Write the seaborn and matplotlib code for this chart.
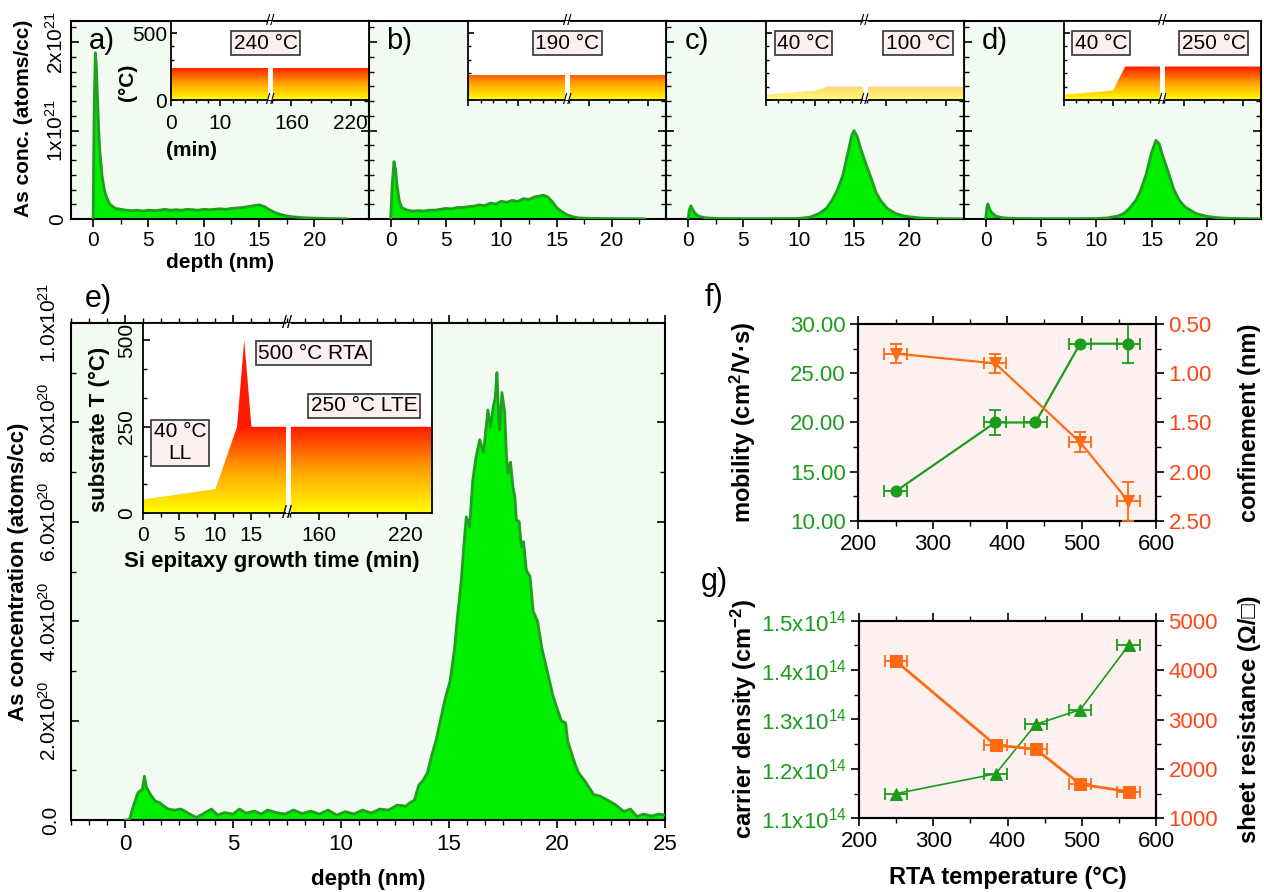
import numpy as np
import pandas as pd
import matplotlib
matplotlib.use("Agg")
import matplotlib.pyplot as plt
import seaborn as sns
from matplotlib.colors import LinearSegmentedColormap
from matplotlib.ticker import MultipleLocator, FixedLocator, FuncFormatter, FormatStrFormatter
from matplotlib.patches import PathPatch

# ---------------- data ----------------
# SIMS profiles, panels a-d (depth in nm, As concentration in 1e21 atoms/cc)
depth_a = [0.0, 0.1, 0.2, 0.3, 0.4, 0.5, 0.6, 0.8, 1.0, 1.2, 1.5, 2.0, 2.5, 3.0, 3.5, 4.0, 4.5, 5.0, 5.5, 6.0,
           6.5, 7.0, 7.5, 8.0, 8.5, 9.0, 9.5, 10.0, 10.5, 11.0, 11.5, 12.0, 12.5, 13.0, 13.5, 14.0, 14.5, 15.0,
           15.5, 16.0, 16.5, 17.0, 17.5, 18.0, 19.0, 20.0, 21.0, 22.0, 23.0]
conc_a = [0.0, 1.30, 1.88, 1.72, 1.35, 1.02, 0.78, 0.50, 0.34, 0.25, 0.17, 0.12, 0.11, 0.10, 0.095, 0.10, 0.09,
          0.10, 0.095, 0.10, 0.11, 0.10, 0.105, 0.10, 0.11, 0.105, 0.10, 0.11, 0.105, 0.11, 0.115, 0.11, 0.12,
          0.125, 0.13, 0.14, 0.15, 0.16, 0.14, 0.10, 0.07, 0.05, 0.035, 0.025, 0.015, 0.01, 0.006, 0.004, 0.003]

depth_b = [0.0, 0.15, 0.3, 0.45, 0.6, 0.8, 1.0, 1.5, 2.0, 2.5, 3.0, 3.5, 4.0, 4.5, 5.0, 5.5, 6.0, 6.5, 7.0, 7.5,
           8.0, 8.5, 9.0, 9.5, 10.0, 10.5, 11.0, 11.5, 12.0, 12.5, 13.0, 13.5, 13.8, 14.2, 14.6, 15.0, 15.5,
           16.0, 16.5, 17.0, 18.0, 19.0, 20.0, 21.0, 22.0, 23.0]
conc_b = [0.0, 0.40, 0.65, 0.56, 0.36, 0.20, 0.13, 0.10, 0.09, 0.095, 0.09, 0.10, 0.10, 0.11, 0.12, 0.115, 0.13,
          0.13, 0.14, 0.145, 0.16, 0.15, 0.18, 0.17, 0.20, 0.19, 0.21, 0.20, 0.23, 0.22, 0.25, 0.26, 0.27, 0.25,
          0.20, 0.13, 0.08, 0.045, 0.025, 0.012, 0.008, 0.006, 0.005, 0.004, 0.003, 0.002]

depth_c = [0.0, 0.1, 0.25, 0.4, 0.6, 0.8, 1.0, 1.5, 2.0, 3.0, 5.0, 8.0, 10.0, 11.0, 11.8, 12.5, 13.0, 13.5, 14.0,
           14.5, 14.8, 15.0, 15.3, 15.6, 16.0, 16.5, 17.0, 17.4, 18.0, 18.8, 19.5, 20.0, 21.0, 22.0, 23.0, 24.0, 25.0]
conc_c = [0.0, 0.10, 0.15, 0.11, 0.07, 0.045, 0.03, 0.015, 0.01, 0.006, 0.004, 0.005, 0.007, 0.02, 0.06, 0.12,
          0.21, 0.33, 0.50, 0.78, 0.95, 1.00, 0.93, 0.80, 0.65, 0.48, 0.30, 0.21, 0.12, 0.06, 0.035, 0.025, 0.012,
          0.007, 0.004, 0.003, 0.002]

depth_d = [0.0, 0.1, 0.2, 0.35, 0.5, 0.8, 1.0, 1.5, 2.0, 3.0, 5.0, 8.0, 10.0, 11.0, 12.0, 12.5, 13.0, 13.6, 14.0,
           14.5, 15.0, 15.4, 15.7, 16.0, 16.6, 17.0, 17.5, 18.0, 19.0, 20.0, 21.0, 22.0, 23.0, 24.0, 25.0]
conc_d = [0.0, 0.12, 0.17, 0.12, 0.08, 0.045, 0.03, 0.015, 0.01, 0.006, 0.004, 0.004, 0.006, 0.012, 0.035, 0.064,
          0.12, 0.215, 0.32, 0.50, 0.75, 0.89, 0.85, 0.72, 0.50, 0.34, 0.215, 0.14, 0.064, 0.03, 0.015, 0.008,
          0.005, 0.003, 0.002]

# panel e profile (depth nm, As concentration in 1e20 atoms/cc)
depth_e = [0.0, 0.2, 0.4, 0.6, 0.8, 0.9, 1.0, 1.2, 1.4, 1.6, 1.8, 2.0, 2.3, 2.6, 3.0, 3.3, 3.6, 4.0, 4.3, 4.6,
           5.0, 5.3, 5.6, 6.0, 6.3, 6.6, 7.0, 7.4, 7.8, 8.2, 8.6, 9.0, 9.4, 9.8, 10.2, 10.6, 11.0, 11.4, 11.8, 12.2,
           12.6, 13.0, 13.2, 13.4, 13.6, 13.8, 14.0, 14.2, 14.4, 14.6, 14.8, 15.05, 15.26, 15.37,
           15.57, 15.7, 15.8, 15.95, 16.1, 16.25, 16.42, 16.6, 16.8, 16.92, 17.04, 17.14, 17.22, 17.3, 17.35,
           17.45, 17.58, 17.65, 17.73, 17.85, 17.96, 18.05, 18.12, 18.25, 18.35, 18.45, 18.58, 18.75, 18.9, 19.1,
           19.3, 19.6, 19.8, 20.0, 20.2, 20.4, 20.5, 20.85, 21.0, 21.3, 21.7, 22.0, 22.3, 22.7, 23.1, 23.4, 23.7,
           24.0, 24.4, 24.7, 25.0]
conc_e = [0.0, 0.0, 0.30, 0.55, 0.62, 0.88, 0.65, 0.50, 0.38, 0.35, 0.28, 0.22, 0.20, 0.22, 0.12, 0.05, 0.12,
          0.22, 0.10, 0.15, 0.12, 0.22, 0.14, 0.18, 0.12, 0.20, 0.15, 0.12, 0.20, 0.13, 0.18, 0.12, 0.20, 0.10,
          0.17, 0.12, 0.20, 0.14, 0.22, 0.20, 0.30, 0.28, 0.35, 0.40, 0.70, 0.80, 0.95, 1.30, 1.60, 2.00, 2.40,
          2.80, 3.46, 4.00,
          4.83, 5.6, 6.10, 5.9, 6.84, 7.3, 7.65, 7.4, 8.25, 7.9, 8.30, 8.5, 9.00, 8.1, 7.85,
          8.6, 8.20, 7.4, 6.98, 7.2, 6.70, 6.5, 6.04, 6.0, 5.50, 5.6, 5.03, 4.9, 4.20, 4.0,
          3.46, 2.90, 2.52, 2.25, 2.00, 1.95, 1.58, 1.11, 0.95, 0.78, 0.51, 0.48, 0.41, 0.31, 0.17, 0.22, 0.07,
          0.12, 0.08, 0.12, 0.10]

# growth-temperature recipes for the insets (time in min, T in degC)
time_a = [0, 20, 138, 238]
temp_a = [240, 240, 240, 240]
time_b = [0, 20, 138, 238]
temp_b = [190, 190, 190, 190]
time_c = [0, 10, 12.5, 20, 138, 238]
temp_c = [40, 70, 100, 100, 100, 100]
time_d = [0, 10, 12.5, 20, 138, 238]
temp_d = [40, 70, 250, 250, 250, 250]
time_e = [0, 10, 13, 14, 15, 20, 138, 238]
temp_e = [40, 70, 250, 500, 250, 250, 250, 250]

# panel f / g
rta_temp = [250, 384, 438, 498, 563]
rta_err = [15, 15, 15, 15, 15]
mobility = [13.0, 20.0, 20.0, 28.0, 28.0]
mobility_err = [0.0, 1.3, 0.0, 0.0, 2.0]
conf_temp = [250, 384, 498, 563]
conf_temp_err = [15, 15, 15, 15]
confinement = [0.80, 0.90, 1.70, 2.30]
confinement_err = [0.10, 0.10, 0.10, 0.20]
carrier = [1.15e14, 1.19e14, 1.29e14, 1.32e14, 1.45e14]
sheet_res = [4180, 2480, 2400, 1690, 1540]

# ---------------- style ----------------
sns.set_theme(style="ticks")
plt.rcParams.update({
    "axes.edgecolor": "black", "axes.linewidth": 1.5, "text.color": "black",
    "axes.labelcolor": "black", "xtick.color": "black", "ytick.color": "black",
    "xtick.major.width": 1.2, "ytick.major.width": 1.2, "xtick.minor.width": 1.0,
    "ytick.minor.width": 1.0, "xtick.major.size": 6, "ytick.major.size": 6,
    "xtick.minor.size": 3.5, "ytick.minor.size": 3.5,
    "mathtext.fontset": "custom", "mathtext.rm": "Liberation Sans",
    "mathtext.it": "Liberation Sans:italic", "mathtext.bf": "Liberation Sans:bold",
})
plt.rcParams["font.family"] = ["Liberation Sans", "DejaVu Sans"]

FACE_G = "#f2fbf1"
FACE_P = "#fdf1ef"
FILL = "#00ee00"
EDGE = "#1f9f1f"
GREEN = "#1c9c1c"
ORANGE = "#ff6a13"
RED_T = "#ff4516"
HEAT = LinearSegmentedColormap.from_list("heat", ["#ffff00", "#ffa000", "#ff1a00"])

W, H = 1264, 892
fig = plt.figure(figsize=(W / 100, H / 100), dpi=100)


def px_axes(x0, y0, x1, y1):
    return fig.add_axes([x0 / W, 1 - y1 / H, (x1 - x0) / W, (y1 - y0) / H])


def draw_profile(ax, depth, conc, unit):
    df = pd.DataFrame({"depth": depth, "conc": np.asarray(conc, float) * unit})
    ax.fill_between(df["depth"], 0, df["conc"], color=FILL, lw=0, zorder=2)
    sns.lineplot(data=df, x="depth", y="conc", ax=ax, color=EDGE, lw=2.0, zorder=3,
                 estimator=None, sort=False)
    ax.set_xlabel("")
    ax.set_ylabel("")


# broken time axis for insets
BRK_L, BRK_R, KR = 20.0, 138.0, 0.2


def fwd(t):
    t = np.asarray(t, float)
    return np.where(t <= BRK_L, t, np.where(t >= BRK_R, BRK_L + (t - BRK_R) * KR, BRK_L))


def inv(u):
    u = np.asarray(u, float)
    return np.where(u <= BRK_L, u, BRK_R + (u - BRK_L) / KR)


def draw_inset(ax, time, temp, ymax, alpha=1.0, brk_fs=11):
    ax.set_facecolor("white")
    ax.set_xscale("function", functions=(fwd, inv))
    poly = ax.fill_between(time, 0, temp, facecolor="none", edgecolor="none", zorder=1)
    clip = PathPatch(poly.get_paths()[0], transform=ax.transData, facecolor="none", edgecolor="none")
    ax.add_patch(clip)
    ramp = np.clip(np.linspace(0, 600, 400) / 250.0, 0, 1).reshape(-1, 1)
    im = ax.imshow(ramp, extent=(0, 1, 0, 600.0 / ymax), origin="lower", aspect="auto", cmap=HEAT,
                   vmin=0, vmax=1, transform=ax.transAxes, zorder=1, alpha=alpha, interpolation="bilinear")
    im.set_clip_path(clip)
    ax.set_xlim(0, 238)
    ax.set_ylim(0, ymax)
    ax.axvline(BRK_L, color="white", lw=3.5, zorder=4)
    for yy in (1.0, 0.0):
        ax.text(BRK_L, yy, "//", transform=ax.get_xaxis_transform(), ha="center", va="center",
                fontsize=brk_fs, clip_on=False, zorder=6)
    for s in ax.spines.values():
        s.set_linewidth(1.3)


def box(ax, x, y, s, fs=15):
    ax.text(x, y, s, transform=ax.transAxes, ha="center", va="center", fontsize=fs, zorder=7,
            multialignment="center",
            bbox=dict(boxstyle="square,pad=0.12", fc="#fdf0f0", ec="#333333", lw=1.2))


# ---------------- panels a-d ----------------
lefts = [71, 368.5, 666, 963.5]
PW = 297.5
profiles = [(depth_a, conc_a), (depth_b, conc_b), (depth_c, conc_c), (depth_d, conc_d)]
letters = ["a)", "b)", "c)", "d)"]


def fmt21_func(v, p):
    if abs(v) < 1e10:
        return "0"
    if v < 0:
        return ""
    return f"{int(round(v / 1e21))}x10$^{{21}}$"


for i, (l, (dd, cc)) in enumerate(zip(lefts, profiles)):
    ax = px_axes(l, 21, l + PW, 219)
    ax.set_facecolor(FACE_G)
    draw_profile(ax, dd, cc, 1e21)
    ax.set_xlim(-2, 24.9)
    ax.set_ylim(0, 2.24e21)
    ax.xaxis.set_major_locator(MultipleLocator(5))
    ax.xaxis.set_minor_locator(MultipleLocator(2.5))
    ax.yaxis.set_major_locator(FixedLocator([0, 1e21, 2e21]))
    ax.yaxis.set_minor_locator(MultipleLocator(1e21 / 6))
    ax.tick_params(axis="x", which="both", direction="out", labelsize=15, pad=3)
    ax.tick_params(axis="y", which="both", direction="in", left=True, right=True, labelsize=15, pad=3)
    ax.yaxis.set_major_formatter(FuncFormatter(fmt21_func))
    if i == 0:
        ax.tick_params(axis="y", labelrotation=90)
        for lab in ax.get_yticklabels():
            lab.set_va("center")
        ax.set_ylabel("As conc. (atoms/cc)", fontsize=15, fontweight="bold")
        ax.yaxis.set_label_coords(-0.128, 0.51)
        ax.set_xlabel("depth (nm)", fontsize=15, fontweight="bold", labelpad=2)
    else:
        ax.tick_params(axis="y", labelleft=False)
    fig.text((l + 31) / W, 1 - 41 / H, letters[i], fontsize=21, ha="center", va="center")

# insets a-d
inset_specs = [(time_a, temp_a, 1.0), (time_b, temp_b, 1.0), (time_c, temp_c, 0.55), (time_d, temp_d, 1.0)]
for i, (l, (tt, tp, al)) in enumerate(zip(lefts, inset_specs)):
    ix = px_axes(l + 100, 21, l + PW, 100)
    draw_inset(ix, tt, tp, 590, alpha=al)
    ix.set_yticks([0, 500])
    ix.yaxis.set_minor_locator(FixedLocator([100, 200, 300, 400]))
    ix.set_xticks([0, 10, 160, 220])
    ix.xaxis.set_minor_locator(FixedLocator([2.5, 5, 7.5, 12.5, 15, 17.5, 140, 180, 200]))
    ix.tick_params(axis="y", which="both", direction="in", labelsize=15, pad=3, length=4)
    ix.tick_params(axis="y", which="minor", length=2.5)
    ix.tick_params(axis="x", which="both", direction="out", labelsize=15, pad=6, length=4)
    ix.tick_params(axis="x", which="minor", length=2.5)
    if i == 0:
        ix.set_xticklabels(["0", "10", "160", "220"])
        ix.set_yticklabels(["0", "500"])
        ix.set_xlabel("(min)", fontsize=15, fontweight="bold")
        ix.xaxis.set_label_coords(0.103, -0.52)
        ix.set_ylabel("(°C)", fontsize=15, fontweight="bold")
        ix.yaxis.set_label_coords(-0.17, 0.22)
    else:
        ix.tick_params(labelbottom=False, labelleft=False)
    if i == 0:
        box(ix, 0.48, 0.72, "240 °C")
    elif i == 1:
        box(ix, 0.50, 0.72, "190 °C")
    elif i == 2:
        box(ix, 0.19, 0.72, "40 °C")
        box(ix, 0.77, 0.72, "100 °C")
    else:
        box(ix, 0.19, 0.72, "40 °C")
        box(ix, 0.76, 0.72, "250 °C")

# ---------------- panel e ----------------
axe = px_axes(71, 323, 665, 820)
axe.set_facecolor(FACE_G)
draw_profile(axe, depth_e, conc_e, 1e20)
axe.set_xlim(-2.5, 25)
axe.set_ylim(0, 1.0e21)
axe.xaxis.set_major_locator(MultipleLocator(5))
axe.xaxis.set_minor_locator(MultipleLocator(5 / 6))
axe.yaxis.set_major_locator(FixedLocator([0, 2e20, 4e20, 6e20, 8e20, 1e21]))
axe.yaxis.set_minor_locator(FixedLocator([1e20, 3e20, 5e20, 7e20, 9e20]))


def fmt_e(v, p):
    if abs(v) < 1e10:
        return "0.0"
    if v < 0:
        return ""
    ex = int(np.floor(np.log10(v) + 1e-9))
    return f"{v / 10 ** ex:.1f}x10$^{{{ex}}}$"


axe.yaxis.set_major_formatter(FuncFormatter(fmt_e))
axe.tick_params(axis="x", which="both", direction="out", bottom=True, labelsize=16, pad=4)
axe.tick_params(axis="x", which="both", top=True)
axe.tick_params(axis="y", which="both", direction="in", left=True, right=True, labelsize=15, pad=8,
                labelrotation=90)
for lab in axe.get_yticklabels():
    lab.set_va("center")
axe.set_ylabel("As concentration (atoms/cc)", fontsize=16, fontweight="bold")
axe.yaxis.set_label_coords(-0.070, 0.5)
axe.set_xlabel("depth (nm)", fontsize=16, fontweight="bold")
axe.xaxis.set_label_coords(0.5, -0.098)
fig.text(98 / W, 1 - 299 / H, "e)", fontsize=22, ha="center", va="center")

# inset e
ie = px_axes(143.3, 323, 431.7, 513.3)
draw_inset(ie, time_e, temp_e, 550, brk_fs=13)
ie.set_yticks([0, 250, 500])
ie.yaxis.set_minor_locator(FixedLocator([83.3, 166.7, 333.3, 416.7]))
ie.set_xticks([0, 5, 10, 15, 160, 220])
ie.set_xticklabels(["0", "5", "10", "15", "160", "220"])
ie.xaxis.set_minor_locator(FixedLocator([2.5, 7.5, 12.5, 17.5, 140, 180, 200]))
ie.tick_params(axis="y", which="both", direction="in", labelsize=15, pad=5, labelrotation=90, length=5)
ie.tick_params(axis="y", which="minor", length=3)
for lab in ie.get_yticklabels():
    lab.set_va("center")
ie.tick_params(axis="x", which="both", direction="out", labelsize=15, pad=4, length=5)
ie.tick_params(axis="x", which="minor", length=3)
ie.set_xlabel("Si epitaxy growth time (min)", fontsize=16, fontweight="bold")
ie.xaxis.set_label_coords(0.445, -0.20)
ie.set_ylabel("substrate T (°C)", fontsize=16, fontweight="bold")
ie.yaxis.set_label_coords(-0.115, 0.44)
box(ie, 0.589, 0.842, "500 °C RTA")
box(ie, 0.766, 0.564, "250 °C LTE")
box(ie, 0.127, 0.37, "40 °C\nLL")

# ---------------- panel f ----------------
axf = px_axes(858.3, 324, 1156, 521)
axf.set_facecolor(FACE_P)
sns.lineplot(x=rta_temp, y=mobility, ax=axf, color=GREEN, lw=1.6, marker="o", markersize=8,
             markeredgecolor=GREEN, zorder=3)
axf.errorbar(rta_temp, mobility, xerr=rta_err, yerr=mobility_err, fmt="none", ecolor=GREEN,
             elinewidth=1.3, capsize=4, capthick=1.3, zorder=3)
axf.set_xlim(200, 600)
axf.set_ylim(10, 30)
axf2 = axf.twinx()
sns.lineplot(x=conf_temp, y=confinement, ax=axf2, color=ORANGE, lw=1.6, marker="v", markersize=9,
             markeredgecolor=ORANGE, zorder=3)
axf2.errorbar(conf_temp, confinement, xerr=conf_temp_err, yerr=confinement_err, fmt="none",
              ecolor=ORANGE, elinewidth=1.3, capsize=4, capthick=1.3, zorder=3)
axf2.set_ylim(2.5, 0.5)

# ---------------- panel g ----------------
axg = px_axes(859, 620.7, 1156, 818.3)
axg.set_facecolor(FACE_P)
sns.lineplot(x=rta_temp, y=carrier, ax=axg, color=GREEN, lw=1.2, marker="^", markersize=9,
             markeredgecolor=GREEN, zorder=3)
axg.errorbar(rta_temp, carrier, xerr=rta_err, fmt="none", ecolor=GREEN, elinewidth=1.3, capsize=4,
             capthick=1.3, zorder=3)
axg.set_xlim(200, 600)
axg.set_ylim(1.1e14, 1.5e14)
axg2 = axg.twinx()
sns.lineplot(x=rta_temp, y=sheet_res, ax=axg2, color=ORANGE, lw=2.0, marker="s", markersize=8,
             markeredgecolor=ORANGE, zorder=3)
axg2.errorbar(rta_temp, sheet_res, xerr=rta_err, fmt="none", ecolor=ORANGE, elinewidth=1.3, capsize=4,
              capthick=1.3, zorder=3)
axg2.set_ylim(1000, 5000)

for a in (axf, axg):
    a.xaxis.set_major_locator(MultipleLocator(100))
    a.xaxis.set_minor_locator(MultipleLocator(50))
    a.tick_params(axis="x", which="both", direction="out", labelsize=16, pad=3)
    a.tick_params(axis="x", which="both", top=True, labeltop=False)
    a.tick_params(axis="y", which="both", direction="out", labelsize=16, labelcolor=GREEN, pad=3)
    a.set_xlabel("")
for a in (axf2, axg2):
    a.tick_params(axis="y", which="both", direction="out", labelsize=16, labelcolor=RED_T, pad=3)
    a.set_ylabel("")
    for s in a.spines.values():
        s.set_linewidth(1.5)

axf.yaxis.set_major_locator(MultipleLocator(5))
axf.yaxis.set_minor_locator(MultipleLocator(2.5))
axf.yaxis.set_major_formatter(FormatStrFormatter("%.2f"))
axf2.yaxis.set_major_locator(MultipleLocator(0.5))
axf2.yaxis.set_minor_locator(MultipleLocator(0.25))
axf2.yaxis.set_major_formatter(FormatStrFormatter("%.2f"))

axg.yaxis.set_major_locator(FixedLocator([1.1e14, 1.2e14, 1.3e14, 1.4e14, 1.5e14]))
axg.yaxis.set_minor_locator(FixedLocator([1.15e14, 1.25e14, 1.35e14, 1.45e14]))
axg.yaxis.set_major_formatter(FuncFormatter(lambda v, p: f"{v / 1e14:.1f}x10$^{{14}}$"))
axg2.yaxis.set_major_locator(MultipleLocator(1000))
axg2.yaxis.set_minor_locator(MultipleLocator(500))

axf.set_ylabel(r"mobility (cm$^{\mathbf{2}}$/V·s)", fontsize=17, fontweight="bold")
axf.yaxis.set_label_coords(-0.337, 0.5)
axf2.set_ylabel("confinement (nm)", fontsize=17, fontweight="bold")
axf2.yaxis.set_label_coords(1.275, 0.5)
axg.set_ylabel(r"carrier density (cm$^{\mathbf{-2}}$)", fontsize=17, fontweight="bold")
axg.yaxis.set_label_coords(-0.337, 0.5)
axg2.set_ylabel("sheet resistance (Ω/□)", fontsize=17, fontweight="bold")
axg2.yaxis.set_label_coords(1.275, 0.5)
axg.set_xlabel("RTA temperature (°C)", fontsize=17, fontweight="bold")
axg.xaxis.set_label_coords(0.5, -0.24)

fig.text(714 / W, 1 - 298 / H, "f)", fontsize=22, ha="center", va="center")
fig.text(714 / W, 1 - 582 / H, "g)", fontsize=22, ha="center", va="center")

fig.savefig("out.png", dpi=100)
